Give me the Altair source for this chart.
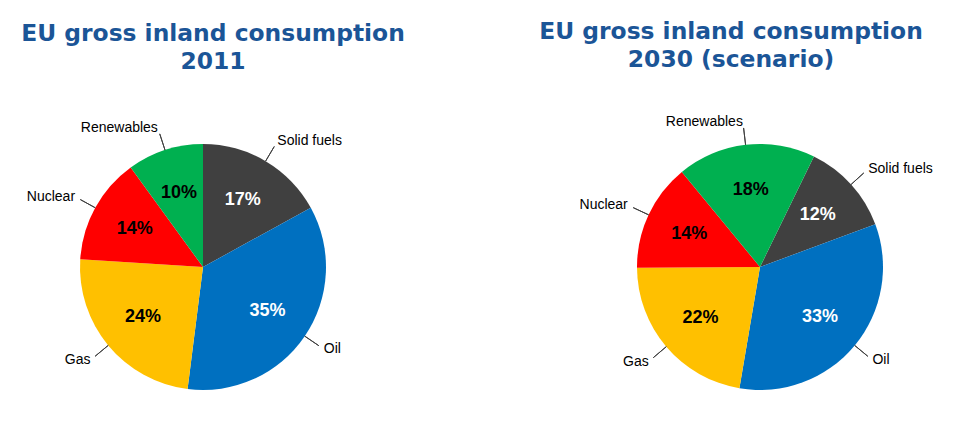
import math
import altair as alt
import pandas as pd

# ---- data -------------------------------------------------------------
categories = ["Solid fuels", "Oil", "Gas", "Nuclear", "Renewables"]
share_2011 = [17, 35, 24, 14, 10]
share_2030 = [12, 33, 22, 14, 18]
pct_2011 = ["17%", "35%", "24%", "14%", "10%"]
pct_2030 = ["12%", "33%", "22%", "14%", "18%"]
title_2011 = ["EU gross inland consumption", "2011"]
title_2030 = ["EU gross inland consumption", "2030 (scenario)"]

# ---- style ------------------------------------------------------------
slice_colors = ["#404040", "#0070C0", "#FFC000", "#FF0000", "#00B050"]
title_color = "#1B5597"
PIE_R = 123


def make_pie(values, pcts, title, first_angle_deg, width, title_dx):
    df = pd.DataFrame({
        "category": categories,
        "value": values,
        "pct": pcts,
        "order": list(range(len(categories))),
    })
    total = sum(values)
    a0 = math.radians(first_angle_deg)
    theta_scale = alt.Scale(domain=[0, total], range=[a0, a0 + 2 * math.pi])

    base = (
        alt.Chart(df)
        .transform_window(cum="sum(value)", sort=[alt.SortField("order", order="ascending")],
                          frame=[None, 0])
        .transform_calculate(
            start="datum.cum - datum.value",
            mid="datum.cum - datum.value / 2",
        )
        .transform_calculate(
            angle=f"({first_angle_deg} + 360 * datum.mid / {total}) % 360"
        )
    )

    arcs = base.mark_arc(radius=PIE_R).encode(
        theta=alt.Theta("start:Q", scale=theta_scale),
        theta2="cum:Q",
        color=alt.Color("category:N",
                        scale=alt.Scale(domain=categories, range=slice_colors),
                        legend=None),
    )

    leaders = base.mark_arc(radius=140, radius2=PIE_R, stroke="#404040",
                            strokeWidth=1, fillOpacity=0).encode(
        theta=alt.Theta("mid:Q", scale=theta_scale),
        theta2="mid:Q",
    )

    names_right = base.transform_filter("datum.angle < 180").mark_text(
        radius=146, align="left", baseline="middle",
        font="Liberation Sans", fontSize=14, color="#000000",
    ).encode(
        theta=alt.Theta("mid:Q", scale=theta_scale, stack=False),
        text="category:N",
    )

    names_left = base.transform_filter("datum.angle >= 180").mark_text(
        radius=146, align="right", baseline="middle",
        font="Liberation Sans", fontSize=14, color="#000000",
    ).encode(
        theta=alt.Theta("mid:Q", scale=theta_scale, stack=False),
        text="category:N",
    )

    pct_text = base.mark_text(
        radius=78, align="center", baseline="middle",
        font="Liberation Sans", fontSize=18, fontWeight="bold",
    ).encode(
        theta=alt.Theta("mid:Q", scale=theta_scale, stack=False),
        text="pct:N",
        color=alt.condition("datum.order < 2", alt.value("#FFFFFF"), alt.value("#000000")),
    )

    return alt.layer(arcs, leaders, names_right, names_left, pct_text).properties(
        width=width,
        height=300,
        title=alt.Title(text=title, dx=title_dx),
    )


left = make_pie(share_2011, pct_2011, title_2011, 0, 390, 10)
right = make_pie(share_2030, pct_2030, title_2030, 26, 360, -29)

chart = (
    alt.hconcat(left, right, spacing=182, bounds="flush")
    .properties(padding={"top": 11, "left": 0, "right": 0, "bottom": 0})
    .configure_view(stroke=None)
    .configure_title(font="DejaVu Sans", fontSize=23.4, fontWeight="bold",
                     color=title_color, lineHeight=28, anchor="middle", offset=43)
)

chart.save("out.html", embed_options={"renderer": "svg", "actions": False})
